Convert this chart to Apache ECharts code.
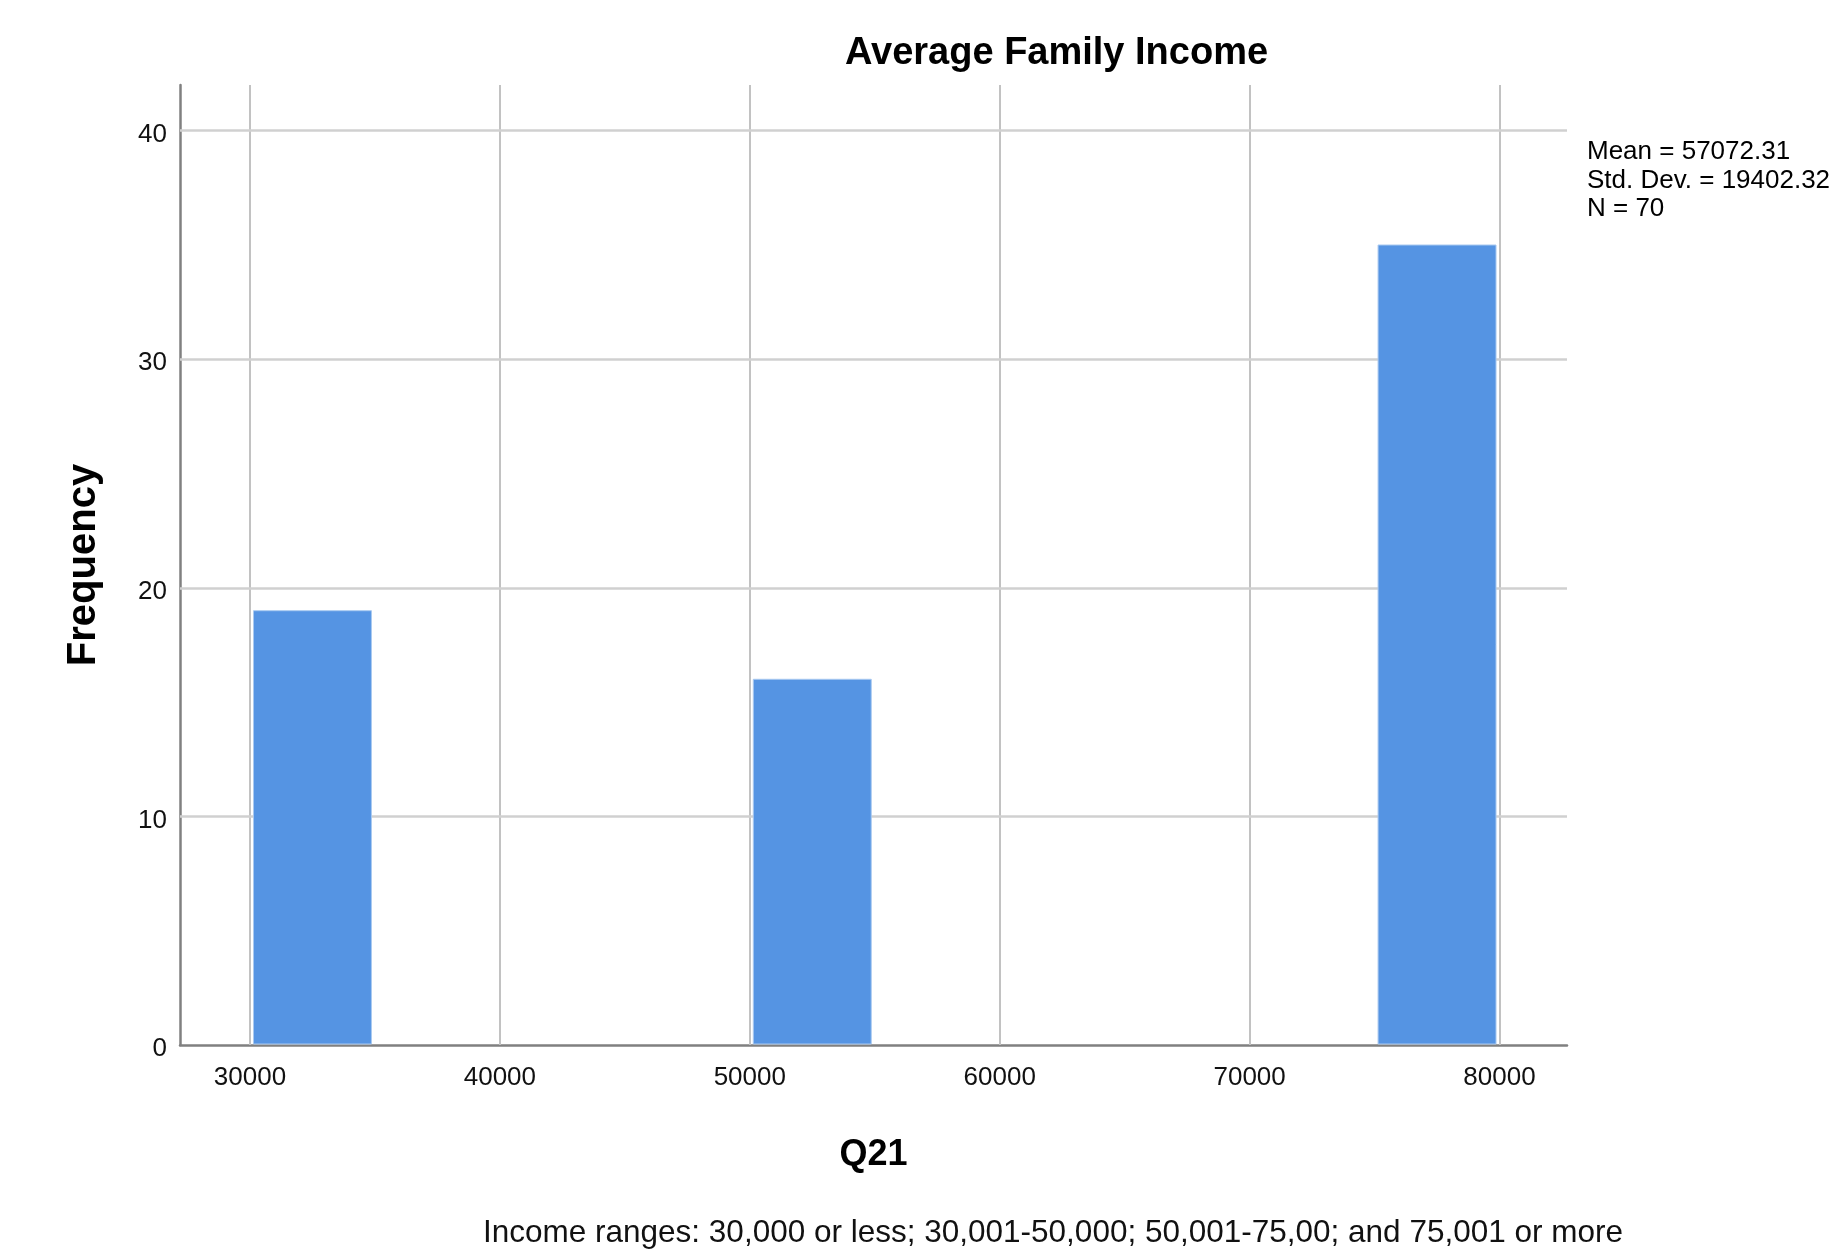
<!DOCTYPE html>
<html lang="en">
<head>
<meta charset="utf-8" />
<title>Average Family Income</title>
<script src="https://cdn.jsdelivr.net/npm/echarts@6/dist/echarts.min.js"></script>
<style>
  html, body { margin: 0; padding: 0; background: #fff; }
  #chart { width: 1830px; height: 1251px; }
</style>
</head>
<body>
<div id="chart"></div>
<script>
// histogram bins (Q21) and their frequencies
var binStart = [30000, 50000, 75000];
var binEnd = [35000, 55000, 80000];
var counts = [19, 16, 35];

// gridline positions
var xTicks = [30000, 40000, 50000, 60000, 70000, 80000];
var yTicks = [10, 20, 30, 40];

var statsLines = ['Mean = 57072.31', 'Std. Dev. = 19402.32', 'N = 70'];
var note = 'Income ranges: 30,000 or less; 30,001-50,000; 50,001-75,00; and 75,001 or more';

var font = 'Liberation Sans, Arial, sans-serif';
var chart = echarts.init(document.getElementById('chart'));

var gridLines = [];
xTicks.forEach(function (v) {
  gridLines.push({ xAxis: v, lineStyle: { color: '#c2c2c2', width: 2 } });
});
yTicks.forEach(function (v) {
  gridLines.push({ yAxis: v, lineStyle: { color: '#d0d0d0', width: 2.5 } });
});

var option = {
  animation: false,
  backgroundColor: '#fff',
  textStyle: { fontFamily: font },
  title: {
    text: 'Average Family Income',
    left: 840,
    top: 30,
    textStyle: { fontFamily: font, fontSize: 38, fontWeight: 'bold', color: '#000' }
  },
  grid: { left: 180, right: 263, top: 85, bottom: 206, containLabel: false },
  xAxis: {
    type: 'value',
    min: 27200,
    max: 82700,
    name: 'Q21',
    nameLocation: 'middle',
    nameGap: 92,
    nameTextStyle: { fontFamily: font, fontSize: 36, fontWeight: 'bold', color: '#000' },
    axisLine: { show: true, lineStyle: { color: '#808080', width: 2.5 } },
    axisTick: { show: false },
    splitLine: { show: false },
    axisLabel: {
      margin: 20,
      fontSize: 26,
      color: '#111',
      formatter: function (v) { return v % 10000 === 0 ? String(v) : ''; }
    }
  },
  yAxis: {
    type: 'value',
    min: 0,
    max: 42,
    name: 'Frequency',
    nameLocation: 'middle',
    nameGap: 76,
    nameTextStyle: { fontFamily: font, fontSize: 40, fontWeight: 'bold', color: '#000' },
    axisLine: { show: true, lineStyle: { color: '#808080', width: 2.5 } },
    axisTick: { show: false },
    splitLine: { show: false },
    axisLabel: {
      margin: 13,
      fontSize: 26,
      color: '#111',
      verticalAlign: 'top',
      lineHeight: 8,
      formatter: function (v) { return v % 10 === 0 ? String(v) : ''; }
    }
  },
  series: [
    {
      // gridlines only, kept under the bars
      type: 'line',
      data: [],
      z: 1,
      markLine: {
        silent: true,
        z: 1,
        symbol: 'none',
        label: { show: false },
        lineStyle: { type: 'solid' },
        data: gridLines
      }
    },
    {
      type: 'custom',
      z: 10,
      data: binStart.map(function (s, i) { return [s, binEnd[i], counts[i]]; }),
      encode: { x: [0, 1], y: 2 },
      renderItem: function (params, api) {
        var p0 = api.coord([api.value(0), api.value(2)]);
        var p1 = api.coord([api.value(1), 0]);
        var inset = 3.5;
        return {
          type: 'rect',
          shape: {
            x: p0[0] + inset,
            y: p0[1],
            width: p1[0] - p0[0] - 2 * inset,
            height: p1[1] - p0[1] - 1
          },
          style: { fill: '#5594e3', stroke: '#a9c9f0', lineWidth: 1 }
        };
      }
    }
  ],
  graphic: [
    {
      type: 'text',
      left: 1587,
      top: 138,
      style: {
        text: statsLines.join('\n'),
        font: '26px "Liberation Sans", Arial, sans-serif',
        lineHeight: 28.5,
        fill: '#000'
      }
    },
    {
      type: 'text',
      x: 1053,
      y: 1233,
      style: {
        text: note,
        font: '31.5px "Liberation Sans", Arial, sans-serif',
        fill: '#111',
        align: 'center',
        verticalAlign: 'middle'
      }
    }
  ]
};

chart.setOption(option);
</script>
</body>
</html>
